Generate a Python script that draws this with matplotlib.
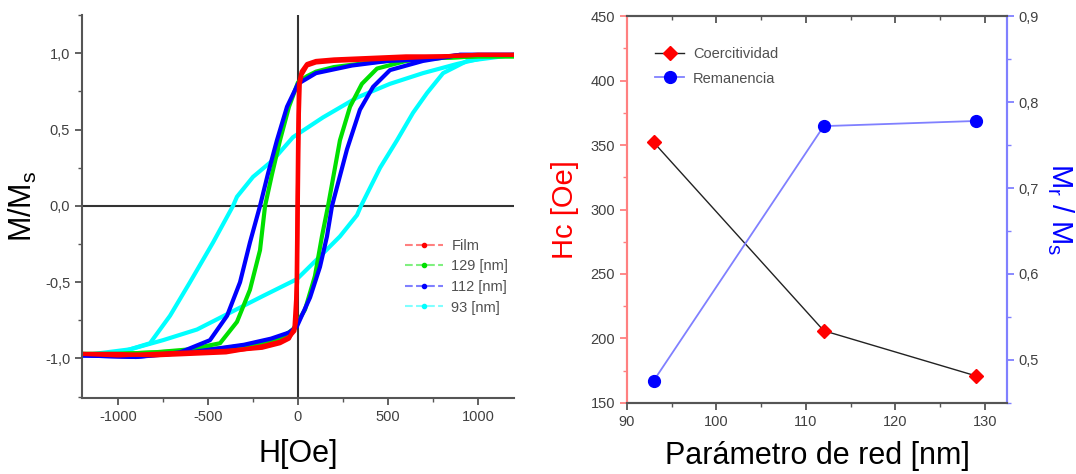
import matplotlib.pyplot as plt
from matplotlib.lines import Line2D
from matplotlib.ticker import MultipleLocator, FuncFormatter

plt.rcParams['font.family'] = ['Liberation Sans', 'DejaVu Sans']
plt.rcParams['axes.unicode_minus'] = False

# hysteresis loops (H in Oe, M/Ms)
film_h_down = [1200, 1000, 800, 600, 400, 200, 100, 50, 20, 5, 0, -5, -10, -20, -50, -100, -200, -300, -400, -600, -800, -1000, -1200]
film_m_down = [0.99, 0.99, 0.98, 0.98, 0.97, 0.96, 0.95, 0.93, 0.88, 0.80, 0.40, -0.20, -0.75, -0.82, -0.86, -0.89, -0.92, -0.94, -0.96, -0.97, -0.98, -0.97, -0.97]
film_h_up = [-1200, -1000, -800, -600, -400, -200, -100, -50, -20, -5, 0, 5, 10, 20, 50, 100, 200, 400, 600, 800, 1000, 1200]
film_m_up = [-0.97, -0.98, -0.97, -0.96, -0.95, -0.93, -0.90, -0.87, -0.80, -0.50, 0.10, 0.60, 0.80, 0.86, 0.92, 0.94, 0.95, 0.96, 0.97, 0.98, 0.99, 0.99]

g129_h_down = [1200, 1000, 800, 600, 400, 200, 100, 50, 0, -50, -100, -144, -183, -211, -267, -339, -433, -600, -800, -1000, -1200]
g129_m_down = [0.98, 0.98, 0.97, 0.96, 0.94, 0.91, 0.88, 0.85, 0.81, 0.65, 0.43, 0.21, 0.0, -0.29, -0.55, -0.76, -0.90, -0.94, -0.96, -0.97, -0.97]
g129_h_up = [-1200, -1000, -800, -600, -400, -200, -100, -28, 39, 94, 133, 167, 233, 289, 355, 439, 600, 800, 1000, 1200]
g129_m_up = [-0.97, -0.97, -0.96, -0.95, -0.93, -0.90, -0.87, -0.81, -0.68, -0.46, -0.20, 0.0, 0.43, 0.65, 0.80, 0.90, 0.95, 0.97, 0.98, 0.98]

b112_h_down = [1200, 1000, 900, 700, 500, 300, 100, 0, -61, -117, -167, -211, -267, -322, -394, -489, -656, -900, -1200]
b112_m_down = [0.99, 0.99, 0.99, 0.96, 0.95, 0.92, 0.87, 0.80, 0.65, 0.43, 0.21, 0.0, -0.24, -0.50, -0.72, -0.88, -0.96, -0.99, -0.98]
b112_h_up = [-1200, -900, -600, -300, -150, -50, -6, 67, 122, 161, 189, 272, 344, 417, 511, 694, 900, 1200]
b112_m_up = [-0.98, -0.99, -0.96, -0.91, -0.87, -0.83, -0.79, -0.60, -0.40, -0.20, 0.0, 0.37, 0.63, 0.78, 0.89, 0.95, 0.99, 0.99]

c93_h_down = [1200, 1067, 883, 694, 511, 328, 139, -28, -139, -250, -339, -361, -472, -600, -711, -822, -989, -1200]
c93_m_down = [0.99, 0.98, 0.93, 0.87, 0.80, 0.71, 0.58, 0.45, 0.30, 0.19, 0.06, 0.0, -0.24, -0.50, -0.72, -0.90, -0.96, -0.98]
c93_h_up = [-1200, -933, -750, -561, -378, -194, -6, 106, 233, 328, 350, 456, 550, 639, 717, 806, 939, 1200]
c93_m_up = [-0.98, -0.94, -0.88, -0.81, -0.70, -0.59, -0.48, -0.35, -0.20, -0.06, 0.0, 0.25, 0.43, 0.61, 0.74, 0.87, 0.95, 0.99]

# coercivity / remanence vs lattice parameter
red_param = [93, 112, 129]
coercitividad = [352, 206, 171]
remanencia = [0.476, 0.772, 0.778]

gray = '#404040'
comma = FuncFormatter(lambda v, p: ('%.1f' % v).replace('.', ','))

fig = plt.figure(figsize=(10.76, 4.74), dpi=100)

# ---- left: loops
ax = fig.add_axes([0.0762, 0.160, 0.4015, 0.808])
loops = [
    (c93_h_down, c93_m_down, c93_h_up, c93_m_up, '#00ffff', '#80ffff', '93 [nm]'),
    (g129_h_down, g129_m_down, g129_h_up, g129_m_up, '#00e000', '#80f080', '129 [nm]'),
    (b112_h_down, b112_m_down, b112_h_up, b112_m_up, '#0000ff', '#8080ff', '112 [nm]'),
    (film_h_down, film_m_down, film_h_up, film_m_up, '#ff0000', '#ff8080', 'Film'),
]
handles = {}
for hd, md, hu, mu, col, light, name in loops:
    ax.plot(hd, md, color=col, lw=3.0, solid_capstyle='round')
    ax.plot(hu, mu, color=col, lw=3.0, solid_capstyle='round')
    handles[name] = Line2D([], [], color=light, ls='--', lw=1.5, marker='.', ms=6,
                           markerfacecolor=col, markeredgecolor=col)

ax.axhline(0, color='#333333', lw=1.5, zorder=0)
ax.axvline(0, color='#333333', lw=1.5, zorder=0)
ax.set_xlim(-1200, 1200)
ax.set_ylim(-1.26, 1.25)
ax.xaxis.set_major_locator(MultipleLocator(500))
ax.xaxis.set_minor_locator(MultipleLocator(250))
ax.yaxis.set_major_locator(MultipleLocator(0.5))
ax.yaxis.set_minor_locator(MultipleLocator(0.25))
ax.yaxis.set_major_formatter(comma)
for s in ['top', 'right']:
    ax.spines[s].set_visible(False)
for s in ['left', 'bottom']:
    ax.spines[s].set_color('#555555')
    ax.spines[s].set_linewidth(1.5)
ax.tick_params(which='both', direction='out', colors='#555555', labelcolor=gray, labelsize=10.5)
ax.tick_params(which='major', length=5, width=1.3)
ax.tick_params(which='minor', length=3, width=1.0)
ax.set_xlabel('H[Oe]', fontsize=22, labelpad=11)
ax.set_ylabel('M/M$_\\mathregular{s}$', fontsize=22, labelpad=4)

order = ['Film', '129 [nm]', '112 [nm]', '93 [nm]']
leg = ax.legend([handles[k] for k in order], order, loc='upper left', bbox_to_anchor=(0.73, 0.435),
                frameon=False, fontsize=10.5, handlelength=2.6, labelspacing=0.45, borderpad=0,
                handletextpad=0.6)
for t in leg.get_texts():
    t.set_color('#505050')

# ---- right: Hc and Mr/Ms
ax2 = fig.add_axes([0.5827, 0.150, 0.3532, 0.816])
ax2.plot(red_param, coercitividad, color='#222222', lw=1.0, marker='D', ms=7.5,
         markerfacecolor='#ff0000', markeredgecolor='#ff0000', label='Coercitividad')
ax2.set_xlim(90, 132.5)
ax2.set_ylim(150, 450)
ax2.xaxis.set_major_locator(MultipleLocator(10))
ax2.xaxis.set_minor_locator(MultipleLocator(5))
ax2.yaxis.set_major_locator(MultipleLocator(50))
ax2.yaxis.set_minor_locator(MultipleLocator(25))

ax3 = ax2.twinx()
ax3.plot(red_param, remanencia, color='#8080ff', lw=1.3, marker='o', ms=8.5,
         markerfacecolor='#0000ff', markeredgecolor='#0000ff', label='Remanencia')
ax3.set_ylim(0.45, 0.9)
ax3.yaxis.set_major_locator(MultipleLocator(0.1))
ax3.yaxis.set_minor_locator(MultipleLocator(0.05))
ax3.yaxis.set_major_formatter(comma)

for a in (ax2, ax3):
    a.spines['top'].set_color('#555555')
    a.spines['bottom'].set_color('#555555')
    a.spines['left'].set_color('#ff8080')
    a.spines['right'].set_color('#8080ff')
    for s in a.spines.values():
        s.set_linewidth(1.5)
ax2.tick_params(axis='x', which='both', direction='out', colors='#555555', labelcolor=gray, labelsize=10.5)
ax2.tick_params(axis='y', which='both', direction='out', colors='#ff8080', labelcolor=gray, labelsize=10.5)
ax3.tick_params(axis='y', which='both', direction='out', colors='#8080ff', labelcolor=gray, labelsize=10.5)
for a in (ax2, ax3):
    a.tick_params(which='major', length=5, width=1.3)
    a.tick_params(which='minor', length=3, width=1.0)

top = ax2.secondary_xaxis('top')
top.xaxis.set_major_locator(MultipleLocator(10))
top.xaxis.set_minor_locator(MultipleLocator(5))
top.tick_params(which='both', direction='in', colors='#555555', labeltop=False)
top.tick_params(which='major', length=5, width=1.3)
top.tick_params(which='minor', length=3, width=1.0)
top.spines['top'].set_visible(False)

ax2.set_xlabel('Parámetro de red [nm]', fontsize=22, labelpad=9)
ax2.set_ylabel('Hc [Oe]', fontsize=21, color='#ff0000', labelpad=8)
ax3.set_ylabel('M$_\\mathregular{r}$ / M$_\\mathregular{s}$', fontsize=21, color='#0000ff',
               rotation=270, labelpad=26)

h1, l1 = ax2.get_legend_handles_labels()
h2, l2 = ax3.get_legend_handles_labels()
leg2 = ax3.legend(h1 + h2, l1 + l2, loc='upper left', bbox_to_anchor=(0.055, 0.94), frameon=False,
                  fontsize=10.5, handlelength=2.0, labelspacing=0.75, borderpad=0, handletextpad=0.6)
for t in leg2.get_texts():
    t.set_color('#505050')

fig.savefig('out.png', dpi=100)
